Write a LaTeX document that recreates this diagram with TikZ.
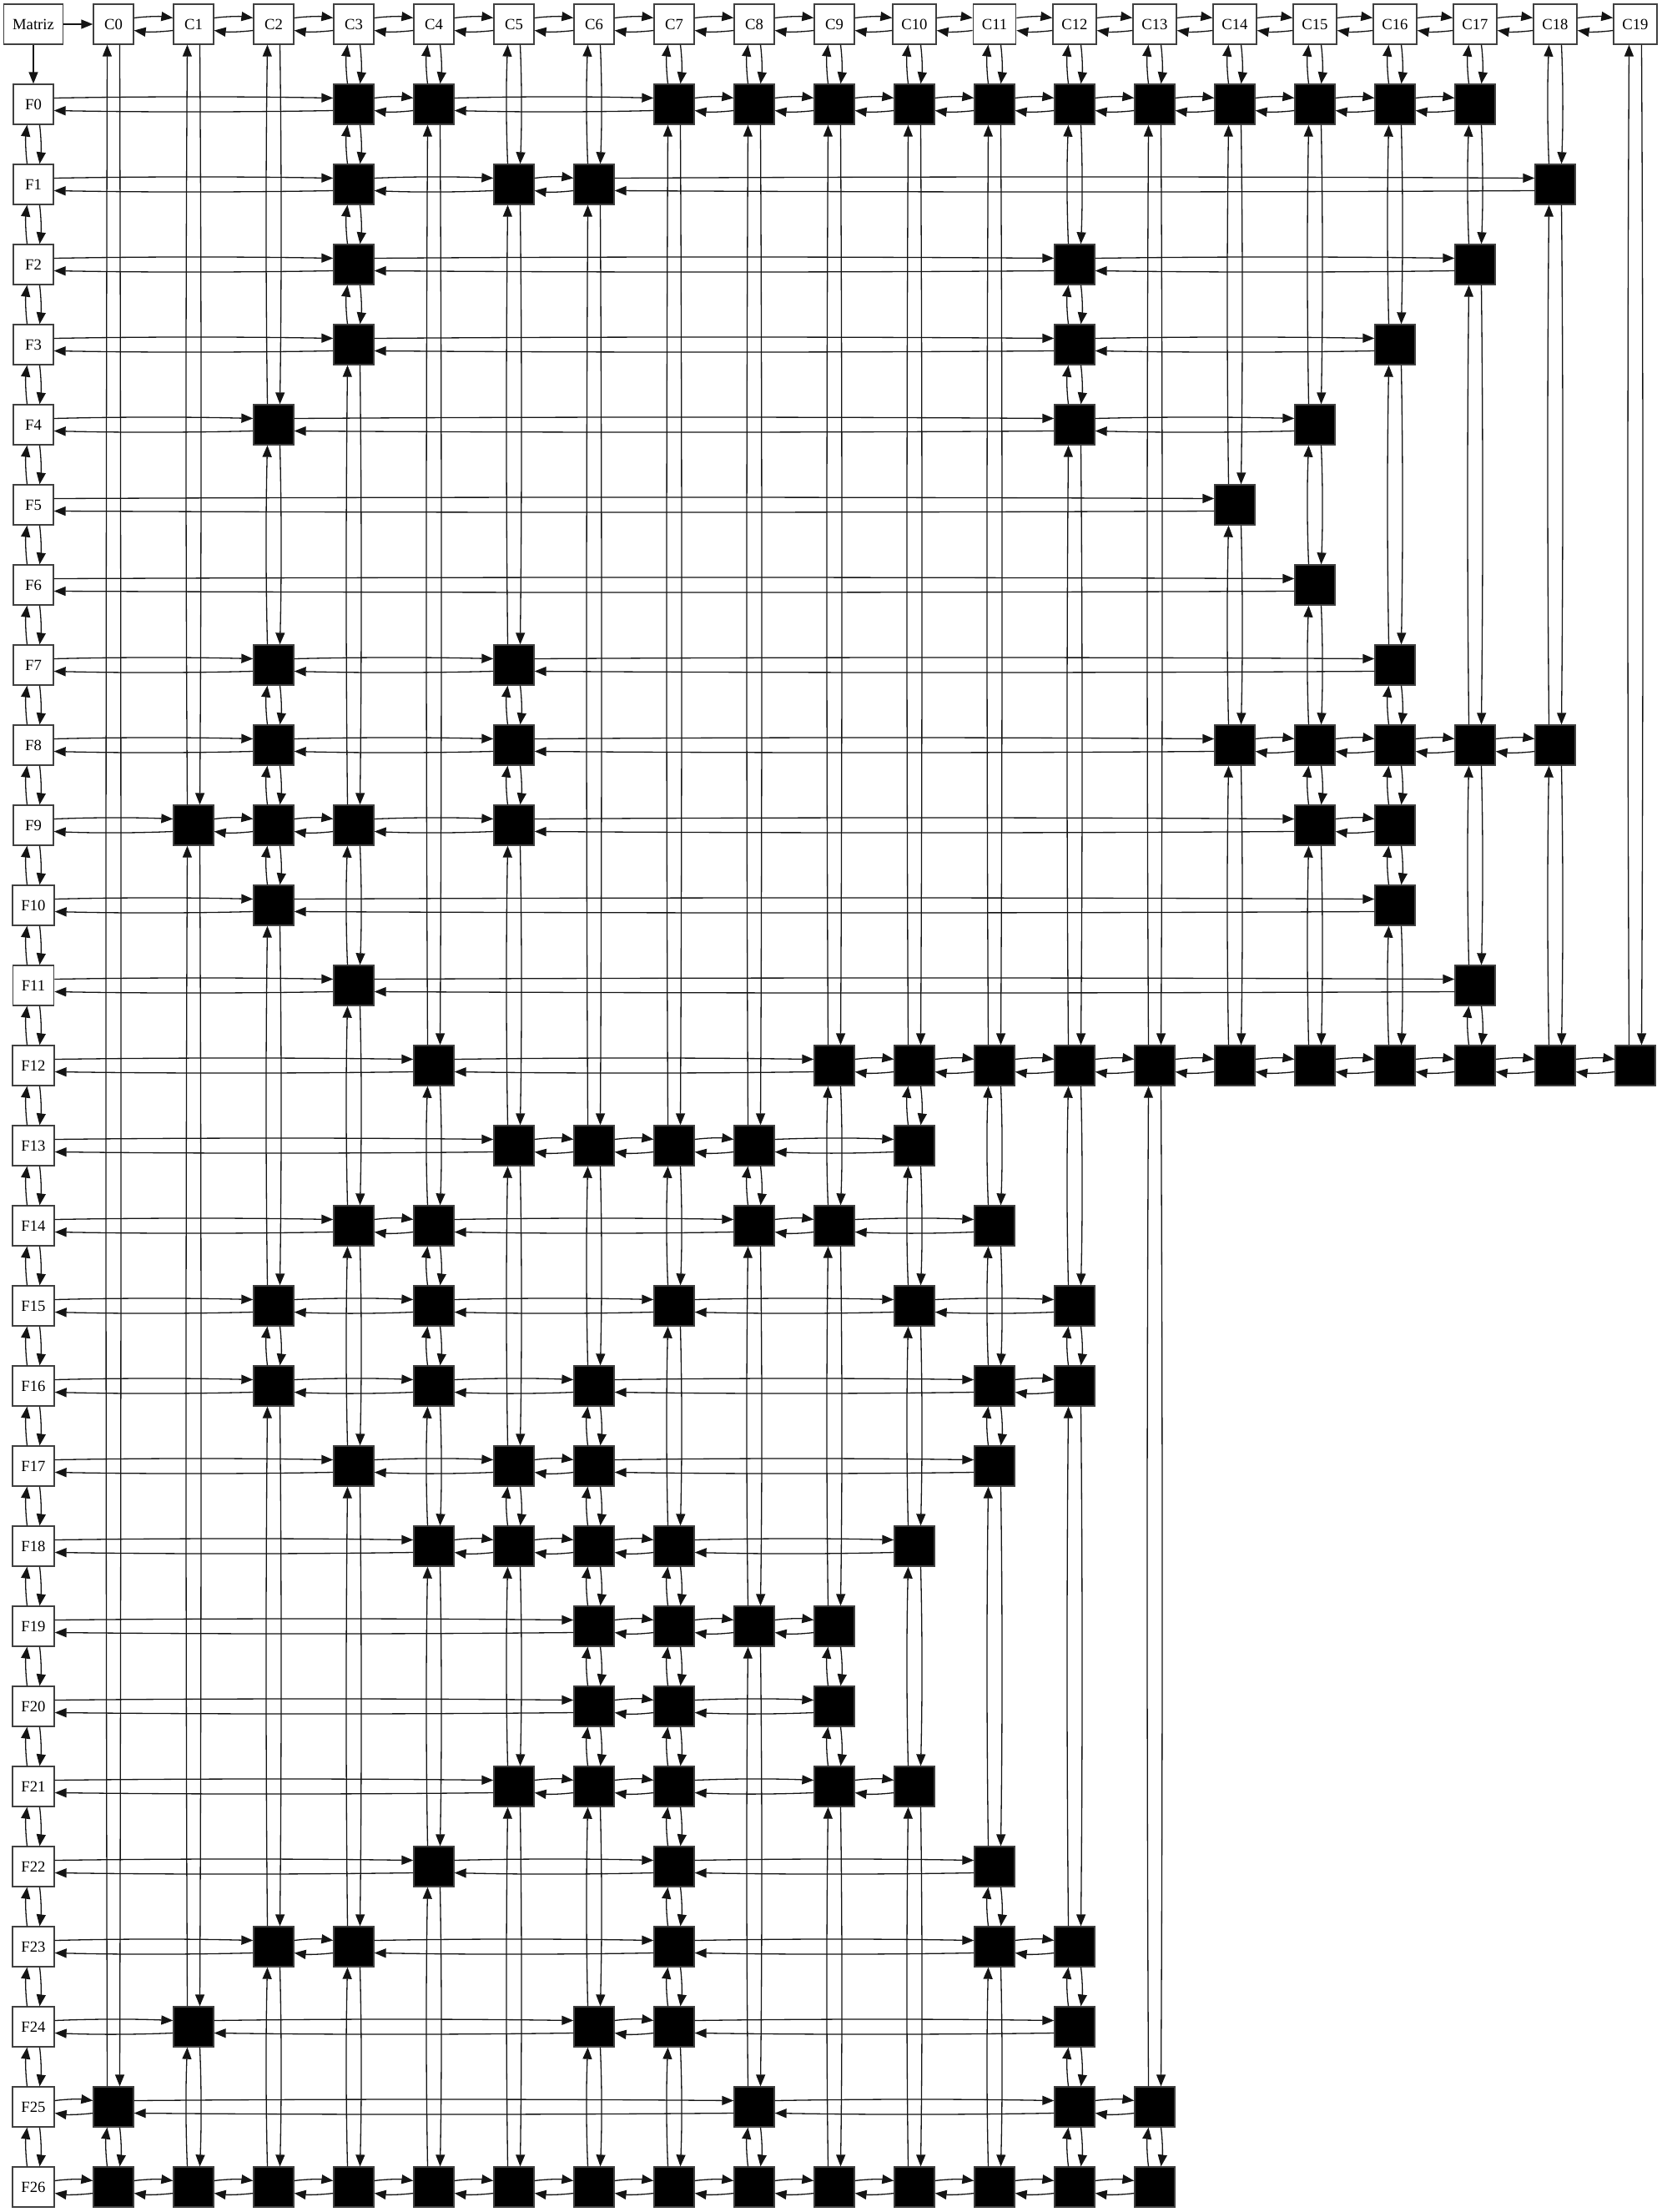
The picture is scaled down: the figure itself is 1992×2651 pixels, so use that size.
\documentclass[tikz,border=0pt]{standalone}
\usepackage{fontspec}
\setmainfont{Liberation Serif}
\usetikzlibrary{arrows.meta,calc}
\colorlet{linegray}{black!92}
\colorlet{boxgray}{black!75}

\begin{document}
\begin{tikzpicture}[x=1pt,y=-1pt]
\tikzset{EdgeStyle/.style={-{Triangle[length=14pt,width=11pt]}, draw=linegray, line width=1.3pt}}
\tikzset{HeadStyle/.style={draw=boxgray, fill=white, line width=1.3pt, minimum width=48pt, minimum height=48pt,
  inner xsep=10.5pt, inner ysep=0pt, font=\fontsize{18.67pt}{22pt}\selectfont}}
\tikzset{CellStyle/.style={draw=boxgray, fill=black, line width=1.3pt, minimum size=48pt, inner sep=0pt}}
\tikzset{ToRight/.style={to path={([yshift=7.5pt]\tikztostart.east)
  .. controls ($([yshift=9.5pt]\tikztostart.east)!.33!([yshift=9.5pt]\tikztotarget.west)$)
  and ($([yshift=9.5pt]\tikztostart.east)!.67!([yshift=9.5pt]\tikztotarget.west)$) .. ([yshift=7.5pt]\tikztotarget.west)}}}
\tikzset{ToLeft/.style={to path={([yshift=-7.5pt]\tikztostart.west)
  .. controls ($([yshift=-9.5pt]\tikztostart.west)!.33!([yshift=-9.5pt]\tikztotarget.east)$)
  and ($([yshift=-9.5pt]\tikztostart.west)!.67!([yshift=-9.5pt]\tikztotarget.east)$) .. ([yshift=-7.5pt]\tikztotarget.east)}}}
\tikzset{ToDown/.style={to path={([xshift=7.5pt]\tikztostart.south)
  .. controls ($([xshift=9.5pt]\tikztostart.south)!.33!([xshift=9.5pt]\tikztotarget.north)$)
  and ($([xshift=9.5pt]\tikztostart.south)!.67!([xshift=9.5pt]\tikztotarget.north)$) .. ([xshift=7.5pt]\tikztotarget.north)}}}
\tikzset{ToUp/.style={to path={([xshift=-7.5pt]\tikztostart.north)
  .. controls ($([xshift=-9.5pt]\tikztostart.north)!.33!([xshift=-9.5pt]\tikztotarget.south)$)
  and ($([xshift=-9.5pt]\tikztostart.north)!.67!([xshift=-9.5pt]\tikztotarget.south)$) .. ([xshift=-7.5pt]\tikztotarget.south)}}}
\useasboundingbox (0,0) rectangle (1992,2651);

% headers
\node[HeadStyle] (M) at (40,29) {Matriz};
\foreach \c in {0,...,19} \node[HeadStyle] (C\c) at ({136+96*\c},29) {C\c};
\foreach \r in {0,...,26} \node[HeadStyle] (F\r) at (40,{125+96*\r}) {F\r};
\draw[EdgeStyle] (M) -- (C0);
\draw[EdgeStyle] (M) -- (F0);
\foreach \c [remember=\c as \p (initially 0)] in {1,...,19} {
  \draw[EdgeStyle, ToRight] (C\p) to (C\c);
  \draw[EdgeStyle, ToLeft] (C\c) to (C\p);
}
\foreach \r [remember=\r as \p (initially 0)] in {1,...,26} {
  \draw[EdgeStyle, ToDown] (F\p) to (F\r);
  \draw[EdgeStyle, ToUp] (F\r) to (F\p);
}

% rows
\foreach \r/\cols in {0/{3,4,7,8,9,10,11,12,13,14,15,16,17}, 1/{3,5,6,18}, 2/{3,12,17}, 3/{3,12,16},
  4/{2,12,15}, 5/{14}, 6/{15}, 7/{2,5,16}, 8/{2,5,14,15,16,17,18}, 9/{1,2,3,5,15,16}, 10/{2,16},
  11/{3,17}, 12/{4,9,10,11,12,13,14,15,16,17,18,19}, 13/{5,6,7,8,10}, 14/{3,4,8,9,11},
  15/{2,4,7,10,12}, 16/{2,4,6,11,12}, 17/{3,5,6,11}, 18/{4,5,6,7,10}, 19/{6,7,8,9}, 20/{6,7,9},
  21/{5,6,7,9,10}, 22/{4,7,11}, 23/{2,3,7,11,12}, 24/{1,6,7,12}, 25/{0,8,12,13},
  26/{0,1,2,3,4,5,6,7,8,9,10,11,12,13}} {
  \foreach \c [remember=\c as \p (initially -1)] in \cols {
    \node[CellStyle] (n\r-\c) at ({136+96*\c},{125+96*\r}) {};
    \ifnum\p<0 \def\src{F\r}\else\def\src{n\r-\p}\fi
    \draw[EdgeStyle, ToRight] (\src) to (n\r-\c);
    \draw[EdgeStyle, ToLeft] (n\r-\c) to (\src);
  }
}

% columns
\foreach \c/\rows in {0/{25,26}, 1/{9,24,26}, 2/{4,7,8,9,10,15,16,23,26}, 3/{0,1,2,3,9,11,14,17,23,26},
  4/{0,12,14,15,16,18,22,26}, 5/{1,7,8,9,13,17,18,21,26}, 6/{1,13,16,17,18,19,20,21,24,26},
  7/{0,13,15,18,19,20,21,22,23,24,26}, 8/{0,13,14,19,25,26}, 9/{0,12,14,19,20,21,26},
  10/{0,12,13,15,18,21,26}, 11/{0,12,14,16,17,22,23,26}, 12/{0,2,3,4,12,15,16,23,24,25,26},
  13/{0,12,25,26}, 14/{0,5,8,12}, 15/{0,4,6,8,9,12}, 16/{0,3,7,8,9,10,12}, 17/{0,2,8,11,12},
  18/{1,8,12}, 19/{12}} {
  \foreach \r [remember=\r as \p (initially -1)] in \rows {
    \ifnum\p<0 \def\src{C\c}\else\def\src{n\p-\c}\fi
    \draw[EdgeStyle, ToDown] (\src) to (n\r-\c);
    \draw[EdgeStyle, ToUp] (n\r-\c) to (\src);
  }
}
\end{tikzpicture}
\end{document}
